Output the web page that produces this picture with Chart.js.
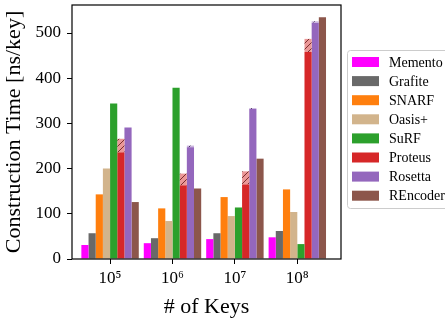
<!DOCTYPE html>
<html lang="en">
<head>
<meta charset="utf-8">
<title>Construction Time per Key</title>
<script src="https://cdn.jsdelivr.net/npm/chart.js"></script>
<style>
    html, body { margin: 0; padding: 0; background: #fff; }
    #chartContainer { width: 445px; height: 322px; }
</style>
</head>
<body>
<div id="chartContainer">
    <canvas id="buildChart" width="445" height="322"></canvas>
</div>
<script>
// data (ns/key)
const keys = ['10⁵', '10⁶', '10⁷', '10⁸'];
const filters = ['Memento', 'Grafite', 'SNARF', 'Oasis+', 'SuRF', 'Proteus', 'Rosetta', 'REncoder'];
const memento  = [31, 35, 44, 48];
const grafite  = [57, 46, 57, 62];
const snarf    = [143, 112, 137, 154];
const oasis    = [200, 84, 95, 104];
const surf     = [344, 379, 114, 33];
const proteus  = [236, 163, 165, 458];
const proteusExtra = [30, 26, 29, 29];   // hatched part on top
const rosetta  = [291, 247, 332, 523];
const rosettaExtra = [0, 4, 2, 3];
const rencoder = [126, 156, 222, 535];
const yTicks = [0, 100, 200, 300, 400, 500];
const yMax = 562;

const series = [memento, grafite, snarf, oasis, surf, proteus, rosetta, rencoder];
const colors = ['#ff00ff', '#696969', '#ff7f0e', '#d2b48c', '#2ca02c', '#d62728', '#9467bd', '#8c564b'];
const serif = '"Liberation Serif", "DejaVu Serif", serif';

function hatch(bg, line) {
    const c = document.createElement('canvas');
    c.width = 6; c.height = 6;
    const g = c.getContext('2d');
    g.fillStyle = bg;
    g.fillRect(0, 0, 6, 6);
    g.strokeStyle = line;
    g.lineWidth = 1;
    g.beginPath();
    g.moveTo(0, 6); g.lineTo(6, 0);
    g.moveTo(-1, 1); g.lineTo(1, -1);
    g.moveTo(5, 7); g.lineTo(7, 5);
    g.stroke();
    return g.createPattern(c, 'repeat');
}

const toPoints = arr => arr.map((v, i) => ({ x: i, y: v }));

const datasets = filters.map((name, i) => ({
    label: name,
    data: toPoints(series[i]),
    backgroundColor: colors[i],
    stack: name
}));
// hatched extra segments stacked on Proteus and Rosetta
datasets.splice(6, 0, {
    label: 'Proteus extra',
    data: toPoints(proteusExtra),
    backgroundColor: hatch('#eb9797', '#7a2e2e'),
    stack: 'Proteus'
});
datasets.splice(8, 0, {
    label: 'Rosetta extra',
    data: toPoints(rosettaExtra),
    backgroundColor: hatch('#cbb6df', '#4a3560'),
    stack: 'Rosetta'
});

// frame around plot + boxed legend on the right
const frameAndLegend = {
    id: 'frameAndLegend',
    afterDraw(chart) {
        const ctx = chart.ctx;
        const a = chart.chartArea;
        ctx.save();
        ctx.strokeStyle = '#000';
        ctx.lineWidth = 1.2;
        ctx.strokeRect(a.left, a.top, a.right - a.left, a.bottom - a.top);

        const x0 = a.right + 6, y0 = 50;
        ctx.beginPath();
        ctx.roundRect(x0 + 0.5, y0 + 0.5, 115, 158, 3);
        ctx.fillStyle = 'rgba(255,255,255,0.8)';
        ctx.fill();
        ctx.strokeStyle = '#cccccc';
        ctx.lineWidth = 1;
        ctx.stroke();

        ctx.font = '14px ' + serif;
        ctx.textBaseline = 'middle';
        ctx.textAlign = 'left';
        filters.forEach((name, i) => {
            const cy = y0 + 12 + i * 19.1;
            ctx.fillStyle = colors[i];
            ctx.fillRect(x0 + 5, cy - 5, 27, 10);
            ctx.fillStyle = '#000';
            ctx.fillText(name, x0 + 42, cy + 1);
        });
        ctx.restore();
    }
};

const ctx = document.getElementById('buildChart').getContext('2d');
new Chart(ctx, {
    type: 'bar',
    data: { datasets: datasets },
    options: {
        responsive: false,
        animation: false,
        maintainAspectRatio: false,
        layout: { padding: { left: 0, right: 104, top: 5, bottom: 0 } },
        datasets: { bar: { categoryPercentage: 0.92, barPercentage: 1.0 } },
        plugins: {
            legend: { display: false },
            tooltip: { enabled: false }
        },
        scales: {
            x: {
                type: 'linear',
                min: -0.61,
                max: 3.7,
                offset: false,
                border: { display: false },
                grid: { drawOnChartArea: false, offset: false, color: '#000', tickLength: 5, lineWidth: 1 },
                afterBuildTicks: s => { s.ticks = keys.map((k, i) => ({ value: i })); },
                afterFit: s => { s.height = 63; s.paddingLeft = 0; s.paddingRight = 0; },
                ticks: {
                    padding: 4,
                    color: '#000',
                    font: { family: serif, size: 17 },
                    callback: v => keys[v]
                },
                title: {
                    display: true,
                    text: '# of Keys',
                    color: '#000',
                    font: { family: serif, size: 22 },
                    padding: { top: 0, bottom: 2 }
                }
            },
            y: {
                stacked: true,
                min: 0,
                max: yMax,
                border: { display: false },
                grid: { drawOnChartArea: false, color: '#000', tickLength: 5, lineWidth: 1 },
                afterBuildTicks: s => { s.ticks = yTicks.map(v => ({ value: v })); },
                afterFit: s => { s.width = 72; s.paddingTop = 0; s.paddingBottom = 0; },
                ticks: {
                    padding: 6,
                    color: '#000',
                    font: { family: serif, size: 17 }
                },
                title: {
                    display: true,
                    text: 'Construction Time [ns/key]',
                    color: '#000',
                    font: { family: serif, size: 22 },
                    padding: { top: 1, bottom: 0 }
                }
            }
        }
    },
    plugins: [frameAndLegend]
});
</script>
</body>
</html>
